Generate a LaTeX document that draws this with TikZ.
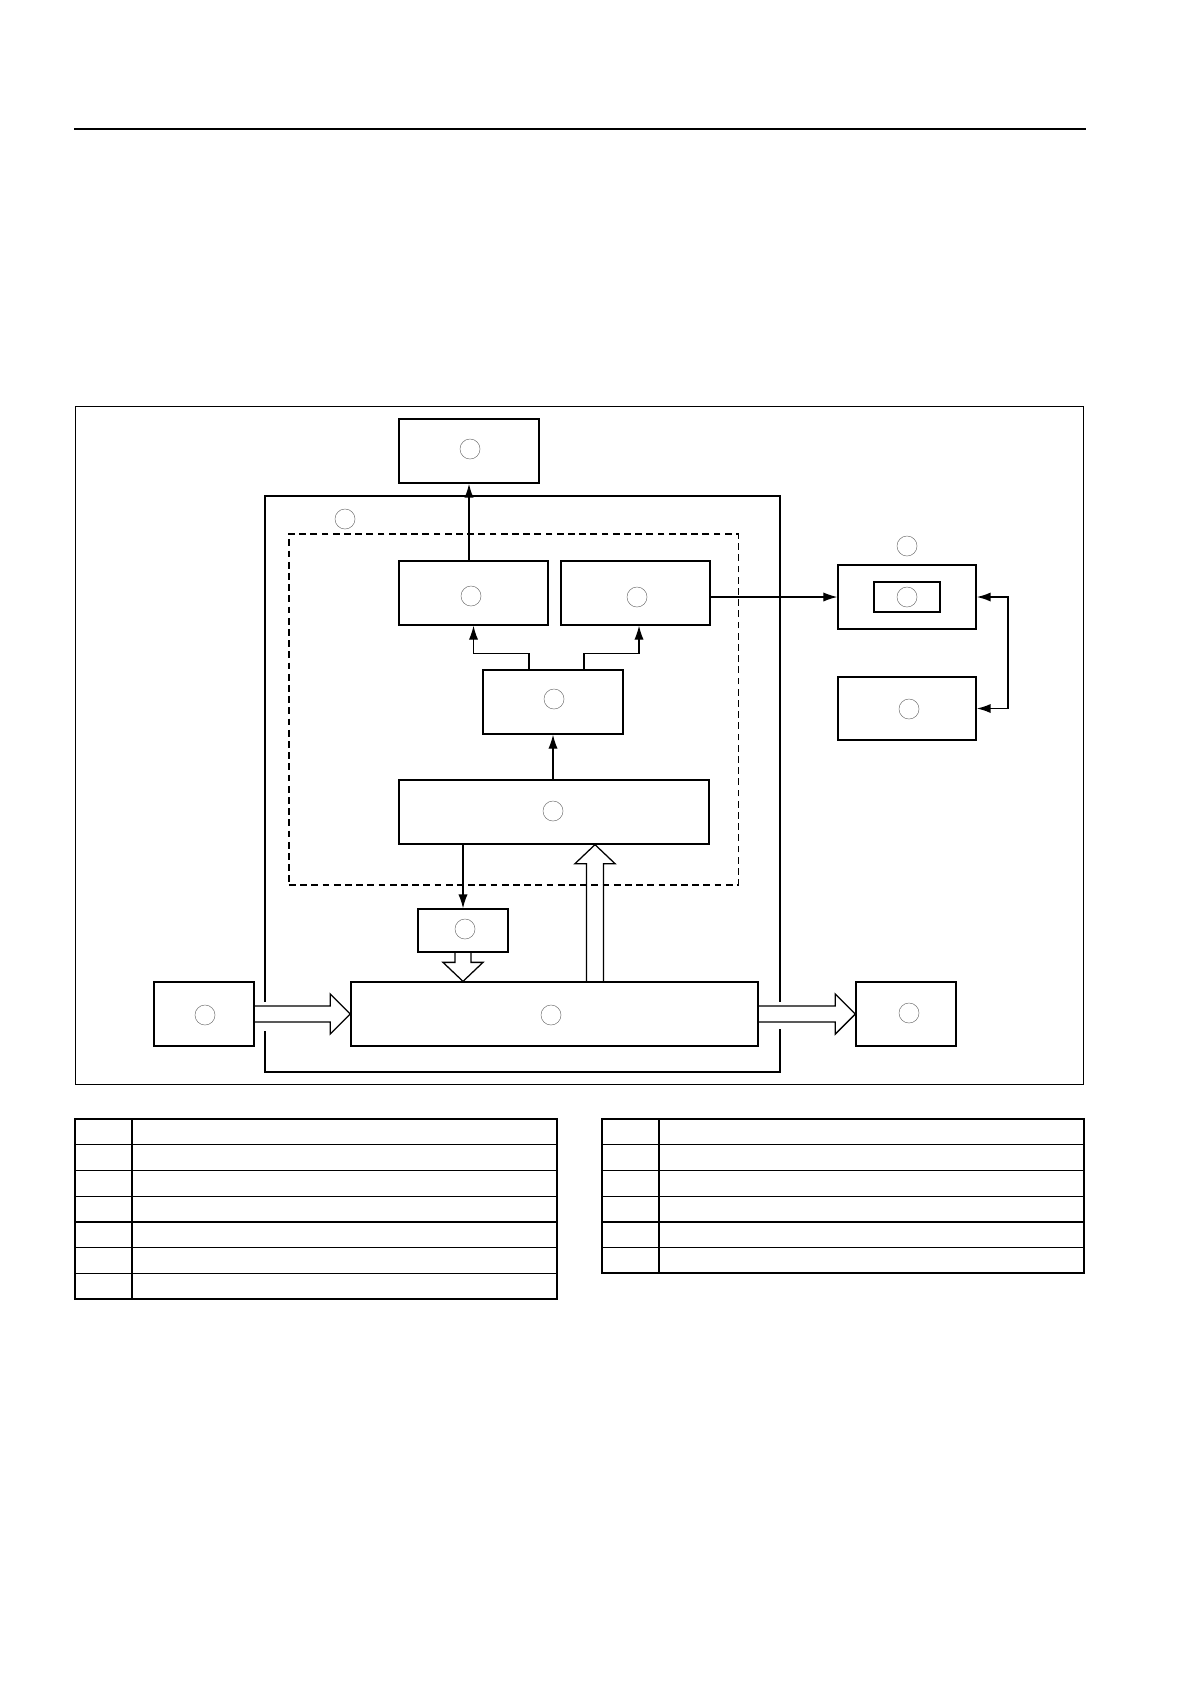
\documentclass[tikz,border=0pt]{standalone}
\usepackage{tikz}
\usetikzlibrary{arrows.meta,calc}

\begin{document}
\begin{tikzpicture}[
    x=0.025cm, y=-0.025cm,
    box/.style={draw,line width=0.9pt,inner sep=0pt,minimum height=1.6cm},
    tag/.style={circle,draw=black!55,line width=0.35pt,inner sep=0pt,
                minimum size=0.5cm},
    link/.style={line width=0.9pt},
    fat/.style={draw,line width=0.9pt,line join=miter},
    tbl/.style={line width=0.9pt},
    >={Latex[length=3.5mm,width=2.3mm]}]
  \useasboundingbox (0,0) rectangle (1192,1684);

  % header rule
  \draw[line width=2pt] (74,129) -- (1086,129);

  % outer frame and unit
  \node[draw,line width=0.6pt,minimum width=25.175cm,minimum height=16.925cm]
        (frame) at (579.5,745.5) {};
  \node[box,minimum width=12.875cm,minimum height=14.4cm] (unit) at (522.5,784) {};
  \node[tag] (tunit) at (345,519) {};
  \node[draw,dashed,dash pattern=on 1.7mm off 1.1mm,line width=0.8pt,
        minimum width=11.225cm,minimum height=8.775cm] (ctrl) at (513.5,709.5) {};

  % blocks
  \node[box,minimum width=3.5cm] (disp) at (469,451) {};
  \node[box,minimum width=3.725cm] (proc) at (473.5,593) {};
  \node[box,minimum width=3.725cm] (comm) at (635.5,593) {};
  \node[box,minimum width=3.5cm,minimum height=1.6cm] (sel) at (553,702) {};
  \node[box,minimum width=7.75cm] (core) at (554,812) {};
  \node[box,minimum width=2.25cm,minimum height=1.075cm] (mem) at (463,930.5) {};
  \node[box,minimum width=10.175cm] (bus) at (554.5,1014) {};
  \node[box,minimum width=2.5cm] (src) at (204,1014) {};
  \node[box,minimum width=2.5cm] (sink) at (906,1014) {};
  \node[box,minimum width=3.45cm] (host) at (907,597) {};
  \node[box,minimum width=1.65cm,minimum height=0.75cm] (port) at (907,597) {};
  \node[box,minimum width=3.45cm,minimum height=1.575cm] (peer) at (907,708.5) {};

  % number bubbles
  \node[tag] (tdisp) at (470,449) {};
  \node[tag] (tproc) at (471,596) {};
  \node[tag] (tcomm) at (637,597) {};
  \node[tag] (tsel) at (554,699) {};
  \node[tag] (tcore) at (553,811) {};
  \node[tag] (tmem) at (465,929) {};
  \node[tag] (tbus) at (551,1015) {};
  \node[tag] (tsrc) at (205,1015) {};
  \node[tag] (tsink) at (909,1013) {};
  \node[tag] (thost) at (907,546) {};
  \node[tag] (tport) at (907,597) {};
  \node[tag] (tpeer) at (909,709) {};

  % connectors
  \draw[link,line width=1.2pt,->] (proc.north -| 469,0) -- (disp.south -| 469,0);
  \draw[link,->] ($(sel.north)+(-24,0)$) |- ($(proc.south)+(0,28)$) -- (proc.south);
  \draw[link,->] ($(sel.north)+(31,0)$) |- ($(comm.south)+(3.5,28)$)
                 -- ($(comm.south)+(3.5,0)$);
  \draw[link,->] (core.north -| sel.south) -- (sel.south);
  \draw[link,->] (core.south -| mem.north) -- (mem.north);
  \draw[link,->] (comm.east |- host.west) -- (host.west);
  \draw[link,line width=1.2pt,<->] (host.east) -- ++(31,0) |- (peer.east);

  % gaps in the unit frame for the buses
  \fill[white] ($(unit.west |- bus.west)+(-3,-12)$) rectangle ++(6,29);
  \fill[white] ($(unit.east |- bus.east)+(-3,-12)$) rectangle ++(6,27);

  % hollow bus arrows
  \draw[fat] ($(src.east)+(0,-8)$) -- ($(bus.west)+(-20,-8)$)
    -- ($(bus.west)+(-20,-20)$) -- (bus.west) -- ($(bus.west)+(-20,20)$)
    -- ($(bus.west)+(-20,8)$) -- ($(src.east)+(0,8)$);
  \draw[fat] ($(bus.east)+(0,-8)$) -- ($(sink.west)+(-20,-8)$)
    -- ($(sink.west)+(-20,-20)$) -- (sink.west) -- ($(sink.west)+(-20,20)$)
    -- ($(sink.west)+(-20,8)$) -- ($(bus.east)+(0,8)$);
  \coordinate (dtip) at (mem.south |- bus.north);
  \draw[fat] ($(mem.south)+(-8,0)$) -- ($(dtip)+(-8,-19)$)
    -- ($(dtip)+(-20,-19)$) -- (dtip) -- ($(dtip)+(20,-19)$)
    -- ($(dtip)+(8,-19)$) -- ($(mem.south)+(8,0)$);
  \coordinate (ubase) at ($(bus.north)+(40.5,0)$);
  \coordinate (utip) at (ubase |- core.south);
  \draw[fat] ($(ubase)+(-8.5,0)$) -- ($(utip)+(-8.5,19)$)
    -- ($(utip)+(-20,19)$) -- (utip) -- ($(utip)+(20,19)$)
    -- ($(utip)+(8.5,19)$) -- ($(ubase)+(8.5,0)$);

  % legend tables
  \draw[tbl] (75,1119) rectangle (557,1299);
  \draw[tbl] (132,1119) -- (132,1299);
  \foreach \r in {1,...,6}
    \draw[tbl] (75,{1119+\r*25.714}) -- (557,{1119+\r*25.714});
  \draw[tbl] (602,1119) rectangle (1084,1273);
  \draw[tbl] (659,1119) -- (659,1273);
  \foreach \r in {1,...,5}
    \draw[tbl] (602,{1119+\r*25.714}) -- (1084,{1119+\r*25.714});
\end{tikzpicture}
\end{document}
